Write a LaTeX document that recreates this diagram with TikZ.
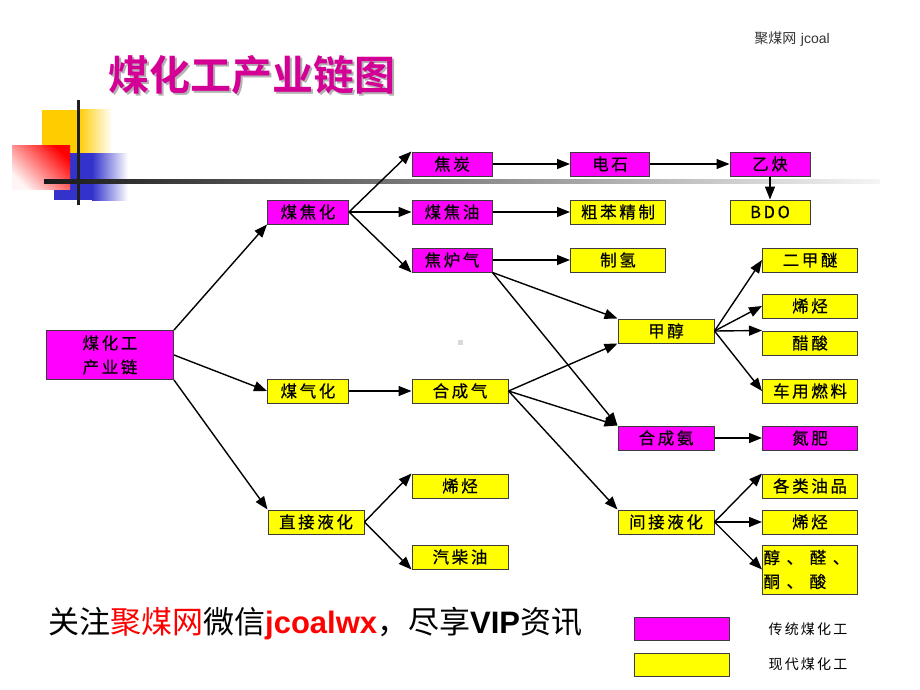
\documentclass[tikz,border=0pt]{standalone}
\usepackage{fontspec}
\usepackage{tikz}
\usetikzlibrary{positioning,calc,arrows.meta}
\newfontfamily\cjk{Noto Sans CJK SC}
\newfontfamily\boxfont[LetterSpace=16,FakeBold=0.6]{Noto Sans CJK SC}
\newfontfamily\keyfont[LetterSpace=16]{Noto Sans CJK SC}
\newfontfamily\titlefont{Noto Sans CJK SC Bold}
\newfontfamily\arial{Liberation Sans}
\definecolor{mag}{RGB}{255,0,255}
\definecolor{yel}{RGB}{255,255,0}
\definecolor{titlepink}{RGB}{212,0,150}
\definecolor{edgegray}{RGB}{60,60,60}
\definecolor{decoblue}{RGB}{51,51,204}
\definecolor{decoyellow}{RGB}{255,204,0}
\tikzset{
  chainbox/.style={draw=edgegray, line width=1pt, minimum height=24pt, inner sep=0pt,
    font=\boxfont\fontsize{16.5}{19}\selectfont},
  oldbox/.style={chainbox, fill=mag},
  newbox/.style={chainbox, fill=yel},
  link/.style={-{Triangle[length=13pt,width=10pt]}, line width=1.4pt},
}

\begin{document}
\begin{tikzpicture}[x=1pt, y=-1pt]
\useasboundingbox (0,0) rectangle (920,690);

% corner ornament
\fill[decoyellow] (42,110) rectangle (78,153);
\shade[left color=decoyellow, right color=white] (78,110) rectangle (112,153);
\fill[decoblue] (54,153) rectangle (92,200);
\shade[left color=decoblue, right color=white] (92,153) rectangle (128,200);
\shade[top color=red, bottom color=red!4, shading angle=-45] (12,145) rectangle (70,189);
\fill[black!88] (77,100) rectangle (80,205);
\shade[left color=black!90, right color=black!4] (44,179) rectangle (880,183);

% title
\path (253.5,77) node[text=black!30, font=\titlefont\fontsize{41}{43}\selectfont] (titleshadow) {煤化工产业链图};
\path (251.5,75) node[text=titlepink, font=\titlefont\fontsize{41}{43}\selectfont] (title) {煤化工产业链图};
\path (792,39) node[text=black!80, font=\fontsize{14}{16}\selectfont] (brand) {{\cjk 聚煤网} {\arial jcoal}};

% boxes
\path (110,355) node[oldbox, minimum width=127pt, minimum height=49pt, align=center,
  font=\boxfont\fontsize{16.5}{24}\selectfont] (root) {煤化工\\产业链};
\path (308,212) node[oldbox, minimum width=81pt] (coking) {煤焦化};
\path (308,391) node[newbox, minimum width=81pt] (gasify) {煤气化};
\path (316,522) node[newbox, minimum width=96pt] (dliquid) {直接液化};
\path (452,164) node[oldbox, minimum width=80pt] (coke) {焦炭};
\path (452,212) node[oldbox, minimum width=80pt] (tar) {煤焦油};
\path (452,260) node[oldbox, minimum width=80pt] (ovengas) {焦炉气};
\path (460,391) node[newbox, minimum width=96pt] (syngas) {合成气};
\path (460,486) node[newbox, minimum width=96pt] (olefina) {烯烃};
\path (460,557) node[newbox, minimum width=96pt] (diesel) {汽柴油};
\path (610,164) node[oldbox, minimum width=79pt] (carbide) {电石};
\path (618,212) node[newbox, minimum width=95pt] (benzene) {粗苯精制};
\path (618,260) node[newbox, minimum width=95pt] (hydrogen) {制氢};
\path (666,331) node[newbox, minimum width=96pt] (methanol) {甲醇};
\path (666,438) node[oldbox, minimum width=96pt] (ammonia) {合成氨};
\path (666,522) node[newbox, minimum width=96pt] (iliquid) {间接液化};
\path (770,164) node[oldbox, minimum width=80pt] (acetylene) {乙炔};
\path (770,212) node[newbox, minimum width=80pt] (bdo) {BDO};
\path (810,260) node[newbox, minimum width=95pt] (dme) {二甲醚};
\path (810,306) node[newbox, minimum width=95pt] (olefinb) {烯烃};
\path (810,343) node[newbox, minimum width=95pt] (acetic) {醋酸};
\path (810,391) node[newbox, minimum width=95pt] (fuel) {车用燃料};
\path (810,438) node[oldbox, minimum width=95pt] (nfert) {氮肥};
\path (810,486) node[newbox, minimum width=95pt] (oils) {各类油品};
\path (810,522) node[newbox, minimum width=95pt] (olefinc) {烯烃};
\path (810,569.5) node[newbox, minimum width=95pt, minimum height=49pt, text width=93pt, align=left,
  font=\boxfont\addfontfeatures{LetterSpace=40}\fontsize{16.5}{24}\selectfont] (alcohols) {醇、醛、\\酮、酸};

\fill[black!15] (458,340) rectangle (463,345);

% connectors
\foreach \a/\b in {root.north east/coking.south west, root.east/gasify.west,
    root.south east/dliquid.north west,
    coking.east/coke.north west, coking.east/tar.west, coking.east/ovengas.south west,
    coke.east/carbide.west, carbide.east/acetylene.west, acetylene.south/bdo.north,
    tar.east/benzene.west, ovengas.east/hydrogen.west,
    ovengas.south east/methanol.north west, ovengas.south east/ammonia.north west,
    gasify.east/syngas.west,
    syngas.east/methanol.south west, syngas.east/ammonia.north west, syngas.east/iliquid.north west,
    dliquid.east/olefina.north west, dliquid.east/diesel.south west,
    methanol.east/dme.west, methanol.east/olefinb.west, methanol.east/acetic.north west,
    methanol.east/fuel.west,
    ammonia.east/nfert.west,
    iliquid.east/oils.north west, iliquid.east/olefinc.west, iliquid.east/alcohols.west}
  \draw[link] (\a) -- (\b);

% footer
\path (48,624) node[anchor=west, inner sep=0pt, font=\fontsize{31}{34}\selectfont] (footer)
  {{\cjk 关注}{\cjk\color{red}聚煤网}{\cjk 微信}{\arial\bfseries\color{red}jcoalwx}{\cjk ，尽享}{\arial\bfseries VIP}{\cjk 资讯}};

% legend
\path (681.5,628.5) node[oldbox, minimum width=95pt, minimum height=23pt] (keyold) {};
\path (681.5,664.5) node[newbox, minimum width=95pt, minimum height=23pt] (keynew) {};
\path (808,629) node[font=\keyfont\fontsize{14}{16}\selectfont] (keyoldtext) {传统煤化工};
\path (808,664) node[font=\keyfont\fontsize{14}{16}\selectfont] (keynewtext) {现代煤化工};
\end{tikzpicture}
\end{document}
